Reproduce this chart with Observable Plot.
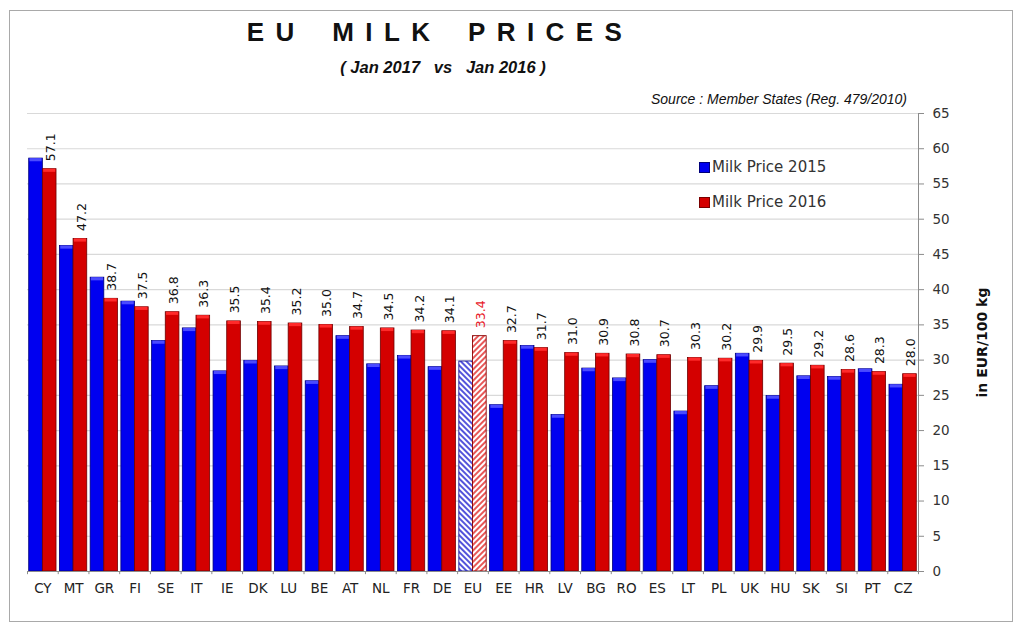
<!DOCTYPE html>
<html>
<head>
<meta charset="utf-8">
<script src="https://cdn.jsdelivr.net/npm/d3@7"></script>
<script src="https://cdn.jsdelivr.net/npm/@observablehq/plot@0.6"></script>
<style>
  body { margin: 0; background: #fff; }
  #wrap { position: relative; width: 1024px; height: 633px; overflow: hidden; font-family: "DejaVu Sans", Verdana, sans-serif; }
  #frame { position: absolute; left: 9px; top: 10px; width: 1004px; height: 612px; border: 1.5px solid #a9a9a9; box-sizing: border-box; }
  #title { position: absolute; left: 140px; width: 600px; top: 17px; text-align: center; font-family: "Liberation Sans", sans-serif; font-weight: bold; font-size: 26px; letter-spacing: 11.4px; word-spacing: 8px; color: #111; white-space: pre; }
  #subtitle { position: absolute; left: 243px; width: 400px; top: 58px; text-align: center; font-family: "Liberation Sans", sans-serif; font-weight: bold; font-style: italic; font-size: 16.5px; color: #111; white-space: pre; }
  #source { position: absolute; right: 117px; top: 91px; font-family: "Liberation Sans", sans-serif; font-style: italic; font-size: 14px; color: #111; white-space: pre; }
  #chart { position: absolute; left: 0; top: 100px; }
  .leg { position: absolute; left: 699px; font-size: 15px; color: #333; display: flex; align-items: center; white-space: pre; }
  .sw { width: 11px; height: 11px; margin-right: 2px; box-sizing: border-box; }
</style>
</head>
<body>
<div id="wrap">
  <div id="frame"></div>
  <div id="title">EU MILK PRICES</div>
  <div id="subtitle">( Jan 2017   vs   Jan 2016 )</div>
  <div id="source">Source : Member States (Reg. 479/2010)</div>
  <div id="chart"></div>
  <div class="leg" style="top:158px"><div class="sw" style="background:#0000f0;border:1px solid #00007a"></div>Milk Price 2015</div>
  <div class="leg" style="top:193px"><div class="sw" style="background:#d40000;border:1px solid #7a0000"></div>Milk Price 2016</div>
</div>
<script>
const countries = ["CY","MT","GR","FI","SE","IT","IE","DK","LU","BE","AT","NL","FR","DE","EU","EE","HR","LV","BG","RO","ES","LT","PL","UK","HU","SK","SI","PT","CZ"];
const price2015 = [58.6,46.2,41.7,38.3,32.7,34.5,28.4,29.9,29.1,27.0,33.4,29.4,30.6,29.0,29.8,23.6,32.0,22.2,28.8,27.4,30.0,22.7,26.3,30.9,24.9,27.7,27.6,28.7,26.5];
const price2016 = [57.1,47.2,38.7,37.5,36.8,36.3,35.5,35.4,35.2,35.0,34.7,34.5,34.2,34.1,33.4,32.7,31.7,31.0,30.9,30.8,30.7,30.3,30.2,29.9,29.5,29.2,28.6,28.3,28.0];
const yTicks = [0,5,10,15,20,25,30,35,40,45,50,55,60,65];
const yLabel = "in EUR/100 kg";
const avgCode = "EU";

const data = countries.map((c, i) => ({country: c, p15: price2015[i], p16: price2016[i]}));
const isAvg = d => d.country === avgCode;
const normal = data.filter(d => !isAvg(d));
const avg = data.filter(isAvg);

const half = 891 / countries.length / 2;

const chart = Plot.plot({
  width: 1024, height: 530,
  marginLeft: 27, marginRight: 106, marginTop: 13, marginBottom: 59,
  x: {domain: countries, padding: 0, round: false, axis: null},
  y: {domain: [0, 65], axis: null},
  style: {fontFamily: "DejaVu Sans, Verdana, sans-serif", fontSize: "13.5px", color: "#222", background: "transparent"},
  marks: [
    Plot.ruleY(yTicks, {stroke: "#d9d9d9", strokeWidth: 1.2}),
    Plot.barY(normal, {x: "country", y: "p15", fill: "#0000f0", stroke: "#00007a", strokeWidth: 0.8, insetLeft: 1.7, insetRight: half}),
    Plot.barY(normal, {x: "country", y: "p16", fill: "#d40000", stroke: "#6e0000", strokeWidth: 0.8, insetLeft: half, insetRight: 1.7}),
    Plot.barY(normal, {x: "country", y1: d => d.p15 - 0.45, y2: "p15", fill: "#4a4aff", insetLeft: 2.5, insetRight: half + 0.8}),
    Plot.barY(normal, {x: "country", y1: d => d.p16 - 0.45, y2: "p16", fill: "#ff2a2a", insetLeft: half + 0.8, insetRight: 2.5}),
    Plot.barY(avg, {x: "country", y: "p15", fill: "url(#hatchBlue)", stroke: "#1a1a9a", strokeWidth: 0.9, insetLeft: 1.7, insetRight: half}),
    Plot.barY(avg, {x: "country", y: "p16", fill: "url(#hatchRed)", stroke: "#8a0000", strokeWidth: 0.9, insetLeft: half, insetRight: 1.7}),
    Plot.ruleY([0], {stroke: "#8c8c8c"}),
    Plot.ruleX(countries, {x: d => d, dx: -half, y1: 0, y2: -0.45, stroke: "#8c8c8c"}),
    Plot.ruleX(countries.slice(-1), {x: d => d, dx: half, y1: -0.45, y2: 65, stroke: "#8c8c8c"}),
    Plot.text(data, {x: "country", y: "p16", text: d => d.p16.toFixed(1), rotate: -90, textAnchor: "start", dx: 8, dy: -8, fontSize: 12.5, fill: d => isAvg(d) ? "#e8202a" : "#111"}),
    Plot.axisX({tickSize: 0, tickPadding: 12, fontSize: 13.5, fill: "#222", label: null}),
    Plot.axisY({anchor: "right", ticks: yTicks, tickSize: 5, tickPadding: 9, label: null, fontSize: 13.5, fill: "#333", stroke: "#8c8c8c"}),
    Plot.text([yLabel], {frameAnchor: "right", textAnchor: "middle", rotate: -90, dx: 64, fontWeight: "bold", fontSize: 14, fill: "#111"})
  ]
});

const defs = d3.select(chart).insert("defs", ":first-child");
function hatch(id, color, angle) {
  const p = defs.append("pattern").attr("id", id).attr("patternUnits", "userSpaceOnUse")
    .attr("width", 4).attr("height", 4).attr("patternTransform", `rotate(${angle})`);
  p.append("rect").attr("width", 4).attr("height", 4).attr("fill", "white");
  p.append("line").attr("x1", 1).attr("y1", 0).attr("x2", 1).attr("y2", 4).attr("stroke", color).attr("stroke-width", 1.5);
}
hatch("hatchBlue", "#1a1ad0", -45);
hatch("hatchRed", "#e02020", 45);

document.getElementById("chart").appendChild(chart);
</script>
</body>
</html>
